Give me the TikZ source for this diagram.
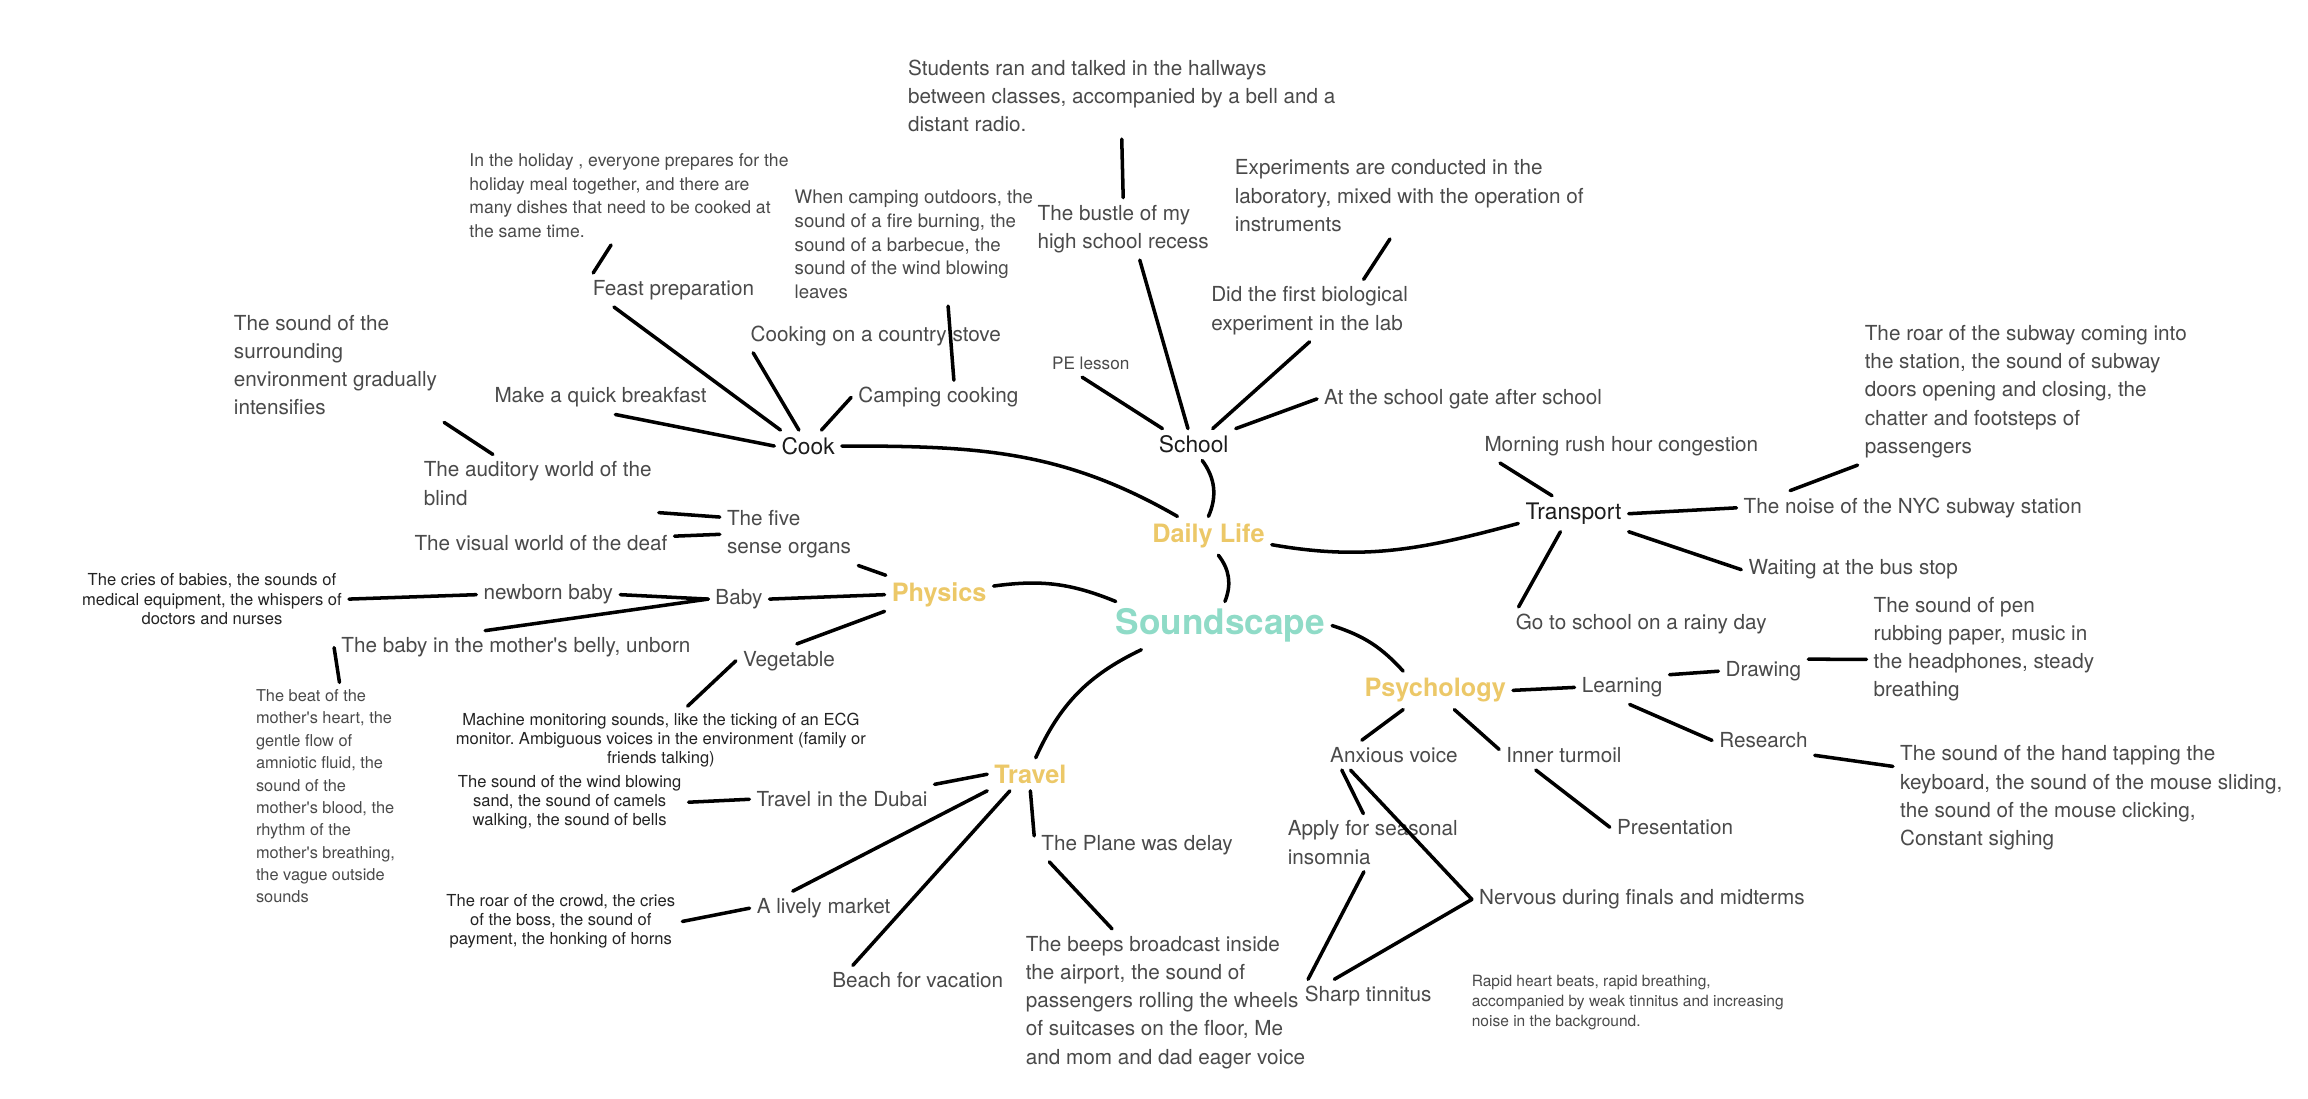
\documentclass[tikz,border=0pt]{standalone}
\usepackage{fontspec}
\setmainfont{TeX Gyre Heros}
\definecolor{rootteal}{RGB}{143,219,199}
\definecolor{branchgold}{RGB}{236,200,104}
\definecolor{inktext}{RGB}{28,28,28}
\definecolor{greytext}{RGB}{74,74,74}
\definecolor{darktext}{RGB}{35,35,35}
\frenchspacing

\begin{document}
\begin{tikzpicture}[
  x=0.025cm, y=-0.025cm,
  every node/.style={inner sep=1.5pt, outer sep=2pt},
  root/.style={font=\fontsize{17}{20}\selectfont\bfseries, text=rootteal},
  branch/.style={font=\fontsize{12.2}{14}\selectfont\bfseries, text=branchgold},
  topic/.style={font=\fontsize{11}{13}\selectfont, text=inktext},
  item/.style={font=\fontsize{10}{13.65}\selectfont, text=greytext, align=left},
  note/.style={text=greytext, align=left},
  darknote/.style={font=\fontsize{8}{9.2}\selectfont, text=darktext, align=center},
  link/.style={line width=1.7pt, line cap=round}
]
  \fill[white] (0,0) rectangle (1568,746);
  \useasboundingbox (0,0) rectangle (1568,746);

  \node[root] (snd) at (829,425) {Soundscape};
  \node[branch] (daily) at (821,364) {Daily Life};
  \node[branch] (phys) at (638,404) {Physics};
  \node[branch] (psy) at (975,469) {Psychology};
  \node[branch] (trav) at (700,526) {Travel};

  \node[topic] (cook) at (549,303) {Cook};
  \node[topic] (school) at (811,302) {School};
  \node[topic] (transport) at (1069,349) {Transport};

  \node[item] (breakfast) at (408,270) {Make a quick breakfast};
  \node[item] (feast) at (457.5,197) {Feast preparation};
  \node[note, font=\fontsize{8.5}{11.4}\selectfont, anchor=west] (feastnote) at (314,133) {In the holiday , everyone prepares for the\\holiday meal together, and there are\\many dishes that need to be cooked at\\the same time.};
  \node[item] (stove) at (595,228) {Cooking on a country stove};
  \node[item] (camping) at (637.5,270) {Camping cooking};
  \node[note, font=\fontsize{9}{11.5}\selectfont, anchor=west] (campnote) at (535,166) {When camping outdoors, the\\sound of a fire burning, the\\sound of a barbecue, the\\sound of the wind blowing\\leaves};

  \node[note, font=\fontsize{8.3}{10}\selectfont] (pe) at (741,247) {PE lesson};
  \node[item, anchor=west] (recess) at (700,155.5) {The bustle of my\\high school recess};
  \node[item, anchor=west] (recessnote) at (612,65) {Students ran and talked in the hallways\\between classes, accompanied by a bell and a\\distant radio.};
  \node[item, anchor=west] (lab) at (818,211) {Did the first biological\\experiment in the lab};
  \node[item, anchor=west] (labnote) at (834,133) {Experiments are conducted in the\\laboratory, mixed with the operation of\\instruments};
  \node[item] (gate) at (994,271) {At the school gate after school};

  \node[item] (rush) at (1101.5,303) {Morning rush hour congestion};
  \node[item] (nyc) at (1299.5,345) {The noise of the NYC subway station};
  \node[item, anchor=west] (subway) at (1262,266) {The roar of the subway coming into\\the station, the sound of subway\\doors opening and closing, the\\chatter and footsteps of\\passengers};
  \node[item] (bus) at (1259,387) {Waiting at the bus stop};
  \node[item] (rainy) at (1115,424) {Go to school on a rainy day};

  \node[item, anchor=west] (five) at (489,363) {The five\\sense organs};
  \node[item, anchor=west] (blind) at (283,328.5) {The auditory world of the\\blind};
  \node[item, anchor=west] (envnote) at (154,248) {The sound of the\\surrounding\\environment gradually\\intensifies};
  \node[item] (deaf) at (367.5,369) {The visual world of the deaf};
  \node[item] (baby) at (502,407) {Baby};
  \node[item] (newborn) at (372.5,404) {newborn baby};
  \node[darknote] (criesnote) at (144,407) {The cries of babies, the sounds of\\medical equipment, the whispers of\\doctors and nurses};
  \node[item] (belly) at (350.5,440) {The baby in the mother\textquotesingle s belly, unborn};
  \node[note, font=\fontsize{7.9}{10.8}\selectfont, anchor=west] (beatnote) at (169,541) {The beat of the\\mother\textquotesingle s heart, the\\gentle flow of\\amniotic fluid, the\\sound of the\\mother\textquotesingle s blood, the\\rhythm of the\\mother\textquotesingle s breathing,\\the vague outside\\sounds};
  \node[item] (veg) at (536,449) {Vegetable};
  \node[darknote] (machnote) at (449,503) {Machine monitoring sounds, like the ticking of an ECG\\monitor. Ambiguous voices in the environment (family or\\friends talking)};

  \node[item] (learning) at (1102,467) {Learning};
  \node[item] (drawing) at (1198,456) {Drawing};
  \node[item, anchor=west] (pennote) at (1268,441) {The sound of pen\\rubbing paper, music in\\the headphones, steady\\breathing};
  \node[item] (research) at (1198,503) {Research};
  \node[item, anchor=west] (keynote) at (1286,542) {The sound of the hand tapping the\\keyboard, the sound of the mouse sliding,\\the sound of the mouse clicking,\\Constant sighing};
  \node[item] (inner) at (1062.5,513) {Inner turmoil};
  \node[item] (present) at (1138,562) {Presentation};
  \node[item] (anxious) at (947,513) {Anxious voice};
  \node[item, anchor=west] (insomnia) at (870,572.5) {Apply for seasonal\\insomnia};
  \node[item] (nervous) at (1115.5,611) {Nervous during finals and midterms};
  \node[item] (tinnitus) at (929.5,677) {Sharp tinnitus};
  \node[note, font=\fontsize{7.5}{9.7}\selectfont, anchor=west] (rapidnote) at (995,681) {Rapid heart beats, rapid breathing,\\accompanied by weak tinnitus and increasing\\noise in the background.};

  \node[item] (dubai) at (572,543) {Travel in the Dubai};
  \node[darknote] (windnote) at (387,545) {The sound of the wind blowing\\sand, the sound of camels\\walking, the sound of bells};
  \node[item] (market) at (559.5,617) {A lively market};
  \node[darknote] (roarnote) at (381,626) {The roar of the crowd, the cries\\of the boss, the sound of\\payment, the honking of horns};
  \node[item] (beach) at (623.5,666) {Beach for vacation};
  \node[item] (plane) at (772.5,574) {The Plane was delay};
  \node[item, anchor=west] (beepnote) at (692,681) {The beeps broadcast inside\\the airport, the sound of\\passengers rolling the wheels\\of suitcases on the floor, Me\\and mom and dad eager voice};

  \draw[link] (snd.79) to[bend right=30] (daily.-63);
  \draw[link] (snd.167) to[bend right=15] (phys.9);
  \draw[link] (snd.197) to[bend right=20] (trav.72);
  \draw[link] (snd.east) to[bend left=15] (psy.149);

  \draw[link] (daily.north) to[bend right=30] (school.-62);
  \draw[link] (daily.148) to[out=150,in=0] (cook.east);
  \draw[link] (daily.-8) to[out=-10,in=195] (transport.190);

  \draw[link] (cook.west) -- (breakfast.-49);
  \draw[link] (cook.150) -- (feast.-164);
  \draw[link] (cook.120) -- (stove.-172);
  \draw[link] (cook.50) -- (camping.west);
  \draw[link] (campnote.-61) -- (camping.48);
  \draw[link] (feast.168) -- (feastnote.-110);

  \draw[link] (school.153) -- (pe.-122);
  \draw[link] (school.110) -- (recess.-62);
  \draw[link] (school.40) -- (lab.south);
  \draw[link] (school.north east) -- (gate.west);
  \draw[link] (recess.north) -- (recessnote.south);
  \draw[link] (lab.30) -- (labnote.-114);

  \draw[link] (transport.140) -- (rush.-172);
  \draw[link] (transport.east) -- (nyc.west);
  \draw[link] (transport.south east) -- (bus.west);
  \draw[link] (transport.-126) -- (rainy.172);
  \draw[link] (nyc.172) -- (subway.south west);

  \draw[link] (phys.160) -- (five.south east);
  \draw[link] (phys.west) -- (baby.east);
  \draw[link] (phys.197) -- (veg.65);
  \draw[link] (five.166) -- (blind.south east);
  \draw[link] (five.west) -- (deaf.3);
  \draw[link] (blind.147) -- (envnote.south east);
  \draw[link] (baby.west) -- (newborn.east);
  \draw[link] (baby.west) -- (belly.151);
  \draw[link] (newborn.west) -- (criesnote.east);
  \draw[link] (belly.west) -- (beatnote.83);
  \draw[link] (veg.west) -- (machnote.52);

  \draw[link] (psy.east) -- (learning.west);
  \draw[link] (learning.15) -- (drawing.west);
  \draw[link] (drawing.15) -- (pennote.185);
  \draw[link] (learning.-66) -- (research.west);
  \draw[link] (research.south east) -- (keynote.171);
  \draw[link] (psy.-149) -- (anxious.155);
  \draw[link] (psy.-45) -- (inner.175);
  \draw[link] (inner.-152) -- (present.west);
  \draw[link] (anxious.-164) -- (insomnia.108);
  \draw[link] (anxious.-161) -- (nervous.west);
  \draw[link] (nervous.west) -- (tinnitus.153);
  \draw[link] (insomnia.-107) -- (tinnitus.164);

  \draw[link] (trav.west) -- (dubai.north east);
  \draw[link] (dubai.west) -- (windnote.east);
  \draw[link] (trav.south west) -- (market.151);
  \draw[link] (market.west) -- (roarnote.east);
  \draw[link] (trav.-141) -- (beach.167);
  \draw[link] (trav.south) -- (plane.175);
  \draw[link] (plane.-169) -- (beepnote.126);
\end{tikzpicture}
\end{document}
